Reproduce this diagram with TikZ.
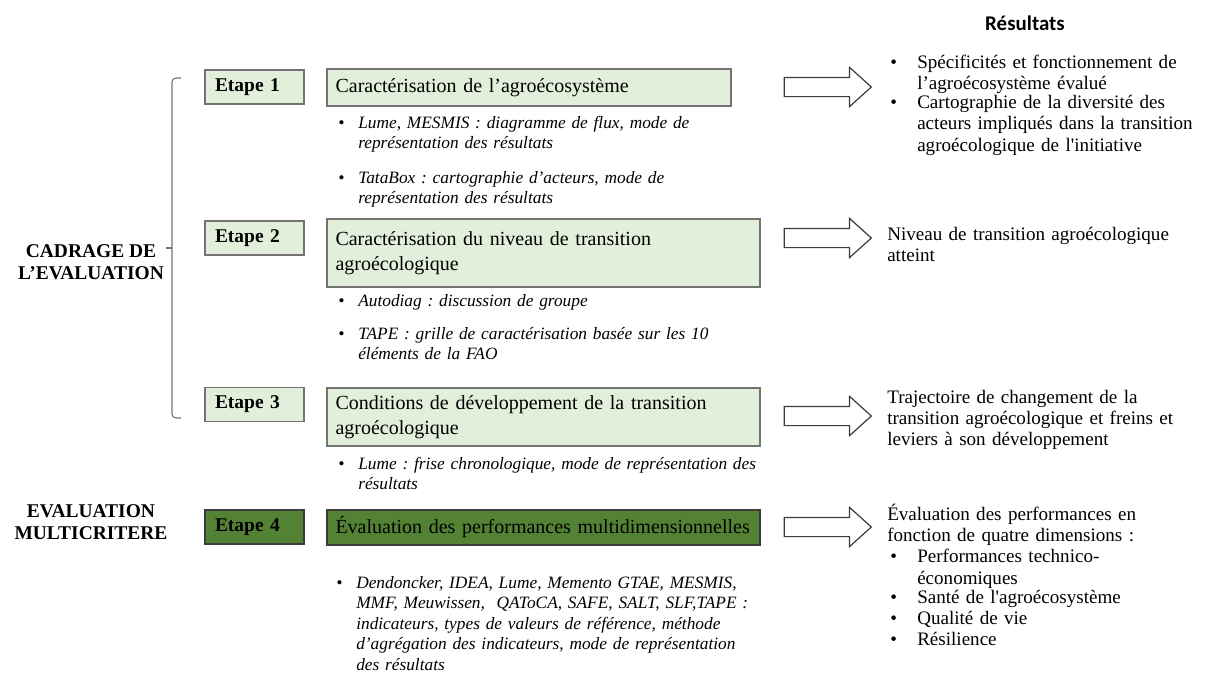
\documentclass[tikz,border=0pt]{standalone}
\usepackage{fontspec}
\setmainfont{Liberation Serif}
\newfontfamily\headfont{Carlito}
\usetikzlibrary{shapes.arrows}

\definecolor{lightgreen}{HTML}{E2EFDA}
\definecolor{darkgreen}{HTML}{548235}
\definecolor{framegray}{RGB}{115,115,115}
\definecolor{arrowgray}{RGB}{60,60,60}

\frenchspacing
% bullet lines for the tools and the results
\newcommand{\toolitem}[1]{\makebox[15pt][l]{\textbullet}\parbox[t]{360pt}{\raggedright #1}}
\newcommand{\resitem}[1]{\hspace*{2.25pt}\makebox[20.25pt][l]{\textbullet}\parbox[t]{220pt}{\raggedright #1}}

\tikzset{
  phase/.style={align=center, inner sep=0pt,
    font=\fontsize{14.6}{16.9}\selectfont\bfseries},
  etape/.style={draw=framegray, line width=0.9pt, fill=lightgreen,
    minimum height=25.5pt, text width=59.25pt, inner xsep=7.5pt,
    inner ysep=2pt, align=left,
    font=\fontsize{14.6}{17}\selectfont\bfseries},
  desc/.style={draw=framegray, line width=0.9pt, fill=lightgreen,
    inner xsep=6.4pt, inner ysep=2pt, align=left,
    font=\fontsize{15}{18.75}\selectfont},
  tools/.style={anchor=base west, inner sep=0pt, text width=380pt,
    align=left, font=\fontsize{13}{15.4}\selectfont\itshape},
  result/.style={anchor=base west, inner sep=0pt, text width=245pt,
    align=left, font=\fontsize{14.3}{16.1}\selectfont},
  bigarrow/.style={single arrow, draw=arrowgray, fill=white,
    line width=0.9pt, inner xsep=0pt, inner ysep=6.75pt,
    minimum height=65.25pt, single arrow head extend=7.5pt,
    single arrow tip angle=84},
  bracket/.style={framegray, line width=0.8pt}
}

\begin{document}
\begin{tikzpicture}[x=0.75pt,y=-0.75pt]
  \useasboundingbox (0,0) rectangle (1212,679);

  % phases on the left
  \node[phase] (cadrage) at (91,262) {CADRAGE DE\\L’EVALUATION};
  \node[phase] (multi) at (91,522) {EVALUATION\\MULTICRITERE};
  \coordinate (brtop) at (181,78);
  \coordinate (brbot) at (181,418);
  \coordinate (brmid) at (172,248);
  \coordinate (brtick) at (166,248);
  \draw[bracket, rounded corners=3pt] (brtop) -- (172,78) -- (172,418) -- (brbot);
  \draw[bracket] (brmid) -- (brtick);

  % steps
  \foreach \i/\y in {1/87,2/238,3/404.5}
    \node[etape] (e\i) at (254.5,\y) {Etape \i};
  \node[etape, fill=darkgreen, draw=arrowgray] (e4) at (254.5,527) {Etape 4};

  \node[desc, minimum width=303pt, text width=290.2pt, minimum height=27.75pt]
    (d1) at (529,87.5) {Caractérisation de l’agroécosystème};
  \node[desc, minimum width=324.75pt, text width=312pt, minimum height=51pt]
    (d2) at (543.5,253) {Caractérisation du niveau de transition\\agroécologique};
  \node[desc, minimum width=324.75pt, text width=312pt, minimum height=43.5pt]
    (d3) at (543.5,417) {Conditions de développement de la transition\\agroécologique};
  \node[desc, fill=darkgreen, draw=arrowgray, minimum width=324.75pt,
    text width=312pt, minimum height=26.25pt]
    (d4) at (543.5,527.5) {Évaluation des performances multidimensionnelles};

  % tools
  \node[tools] (t1a) at (338,128) {\toolitem{Lume, MESMIS : diagramme de flux, mode de\\représentation des résultats}};
  \node[tools] (t1b) at (338,183) {\toolitem{TataBox : cartographie d’acteurs, mode de\\représentation des résultats}};
  \node[tools] (t2a) at (338,306) {\toolitem{Autodiag : discussion de groupe}};
  \node[tools] (t2b) at (338,339) {\toolitem{TAPE : grille de caractérisation basée sur les 10\\éléments de la FAO}};
  \node[tools] (t3) at (338,469) {\toolitem{Lume : frise chronologique, mode de représentation des\\résultats}};
  \node[tools] (t4) at (336,588) {\toolitem{Dendoncker, IDEA, Lume, Memento GTAE, MESMIS,\\MMF, Meuwissen,~ QAToCA, SAFE, SALT, SLF,TAPE :\\indicateurs, types de valeurs de référence, méthode\\d’agrégation des indicateurs, mode de représentation\\des résultats}};

  % arrows to the results
  \foreach \i/\y in {1/87,2/238,3/416,4/527}
    \node[bigarrow] (a\i) at (822.5,\y) {};

  % results
  \node[font=\headfont\fontsize{15.7}{18}\selectfont\bfseries] (restitle) at (1025,23) {Résultats};
  \node[result] (r1) at (887,68) {\resitem{Spécificités et fonctionnement de\\l’agroécosystème évalué}\par\resitem{Cartographie de la diversité des\\acteurs impliqués dans la transition\\agroécologique de l\textquotesingle initiative}};
  \node[result] (r2) at (887,240) {Niveau de transition agroécologique\\atteint};
  \node[result] (r3) at (887,403) {Trajectoire de changement de la\\transition agroécologique et freins et\\leviers à son développement};
  \node[result] (r4) at (887,520) {Évaluation des performances en\\fonction de quatre dimensions :\par\resitem{Performances technico-\\économiques}\par\resitem{Santé de l\textquotesingle agroécosystème}\par\resitem{Qualité de vie}\par\resitem{Résilience}};

\end{tikzpicture}
\end{document}
